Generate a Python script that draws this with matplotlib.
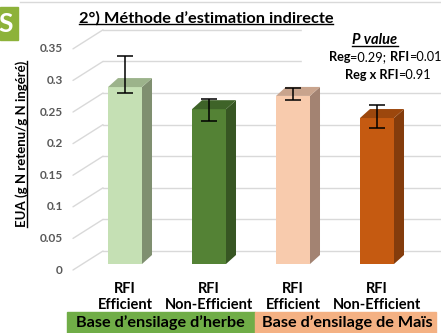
import matplotlib.pyplot as plt
from matplotlib.patches import Polygon, Rectangle
from matplotlib.lines import Line2D
from matplotlib.transforms import offset_copy

W, H = 441, 333
plt.rcParams['font.family'] = ['Lato', 'DejaVu Sans']

# data
categories = ["RFI\nEfficient", "RFI\nNon-Efficient", "RFI\nEfficient", "RFI\nNon-Efficient"]
groups = ["Base d’ensilage d’herbe", "Base d’ensilage de Maïs"]
eua = [0.280, 0.245, 0.266, 0.231]
err_low = [0.009, 0.019, 0.007, 0.016]
err_high = [0.049, 0.016, 0.012, 0.021]
yticks = [0, 0.05, 0.1, 0.15, 0.2, 0.25, 0.3, 0.35]
ytick_labels = ["0", "0.05", "0.1", "0.15", "0.2", "0.25", "0.3", "0.35"]

front_colors = ["#C5E0B4", "#548235", "#F8CBAD", "#C55A11"]
side_colors = ["#7F8F70", "#375623", "#A38372", "#843C0C"]
top_colors = ["#9CB38B", "#3E6328", "#C9A48D", "#9C470D"]
group_colors = ["#70AD47", "#F4B183"]


def fx(px):
    return px / W


def fy(py):
    return 1 - py / H


fig = plt.figure(figsize=(W / 100, H / 100), dpi=100)
ax = fig.add_axes([fx(73), fy(264), (441 - 73) / W, (264 - 30.2) / H])
ax.set_xlim(-0.619, 3.762)
ax.set_ylim(0, 0.37)
for s in ax.spines.values():
    s.set_visible(False)

# back wall gridlines + floor diagonals
wall_x = 30 / 368
back = offset_copy(ax.get_yaxis_transform(), fig=fig, x=0, y=13, units='dots')
front = offset_copy(ax.get_yaxis_transform(), fig=fig, x=0, y=-6, units='dots')
lab_tr = offset_copy(ax.get_yaxis_transform(), fig=fig, x=-10, y=-6, units='dots')
for v, lab in zip(yticks, ytick_labels):
    ax.plot([wall_x, 1], [v, v], transform=back, color="#D9D9D9", lw=1,
            clip_on=False, zorder=0.5)
    ax.annotate("", xy=(wall_x, v), xycoords=back, xytext=(0, v), textcoords=front,
                arrowprops=dict(arrowstyle="-", color="#D9D9D9", lw=1,
                                shrinkA=0, shrinkB=0), zorder=0.5)
    ax.text(0, v, lab, transform=lab_tr, ha="right", va="center",
            fontsize=8.5, fontweight="bold", color="#595959")

# bars with fake depth
x = list(range(len(eua)))
w = 0.405
dxd, dyd = 10 / 84, 9 / 632
ax.bar(x, eua, width=w, color=front_colors, zorder=2)
for xi, v, sc, tc in zip(x, eua, side_colors, top_colors):
    r = xi + w / 2
    ax.add_patch(Polygon([(r, 0), (r + dxd, dyd), (r + dxd, v + dyd), (r, v)],
                         closed=True, color=sc, zorder=2, lw=0))
    ax.add_patch(Polygon([(xi - w / 2, v), (r, v), (r + dxd, v + dyd),
                          (xi - w / 2 + dxd, v + dyd)],
                         closed=True, color=tc, zorder=2, lw=0))
ax.errorbar(x, eua, yerr=[err_low, err_high], fmt="none", ecolor="black",
            elinewidth=1.1, capsize=6, capthick=1.1, zorder=3)

ax.set_yticks([])
ax.set_xticks(x, categories, fontsize=10.5, fontweight="bold", linespacing=1.15)
ax.tick_params(axis="x", length=0, pad=13)

# group bands under the categories
fig.patches.append(Rectangle((fx(67), 0), fx(255) - fx(67), 21 / H,
                             transform=fig.transFigure, color=group_colors[0]))
fig.patches.append(Rectangle((fx(255), 0), fx(436) - fx(255), 21 / H,
                             transform=fig.transFigure, color=group_colors[1]))
fig.text(fx(160), fy(323), groups[0], ha="center", va="center",
         fontsize=11.7, fontweight="bold")
fig.text(fx(347), fy(323), groups[1], ha="center", va="center",
         fontsize=11.7, fontweight="bold")

# white box behind p values
fig.patches.append(Rectangle((fx(302), fy(85)), fx(441) - fx(302), 58 / H,
                             transform=fig.transFigure, color="white", zorder=1))

# slide decoration
fig.patches.append(Rectangle((0, fy(40)), fx(18), 33 / H,
                             transform=fig.transFigure, color="#8DB23A"))
fig.text(fx(6), fy(24), "S", ha="center", va="center", color="white",
         fontsize=19, fontweight="bold")
fig.add_artist(Line2D([fx(20), 1], [fy(2), fy(2)], color="#D9D9D9", lw=1))

title = fig.text(fx(206), fy(18), "2°) Méthode d’estimation indirecte",
                 ha="center", va="center", fontsize=11.8, fontweight="bold")
ylab = fig.text(fx(22), fy(144), "EUA (g N retenu/g N ingéré)", rotation=90,
                ha="center", va="center", fontsize=9.5, fontweight="bold")
ptitle = fig.text(fx(375), fy(40), "P value", ha="center", va="center",
                  fontsize=10.5, fontweight="bold", style="italic", zorder=3)

line2 = [("Reg", "bold"), ("=0.29; ", "normal"), ("RFI", "bold"), ("=0.01", "normal")]
line3 = [("Reg x RFI", "bold"), ("=0.91", "normal")]
rows = []
for parts, centre, ypix in [(line2, 385, 57), (line3, 388, 75)]:
    texts = [fig.text(0, fy(ypix), txt, ha="left", va="center", fontsize=9.2,
                      fontweight=wt, zorder=3) for txt, wt in parts]
    rows.append((texts, centre))

fig.canvas.draw()
r = fig.canvas.get_renderer()
# lay the p-value pieces side by side, centred on the reference position
for texts, centre in rows:
    widths = [t.get_window_extent(r).width for t in texts]
    xpos = centre - sum(widths) / 2
    for t, wd in zip(texts, widths):
        t.set_x(fx(xpos))
        xpos += wd

# underlines
for t in [title, ptitle]:
    bb = t.get_window_extent(r)
    fig.add_artist(Line2D([bb.x0 / W, bb.x1 / W], [(bb.y0 + 1) / H, (bb.y0 + 1) / H],
                          color="black", lw=1, zorder=4))
bb = ylab.get_window_extent(r)
fig.add_artist(Line2D([(bb.x1 - 1) / W, (bb.x1 - 1) / W], [bb.y0 / H, bb.y1 / H],
                      color="black", lw=1))

fig.savefig("out.png", dpi=100)
